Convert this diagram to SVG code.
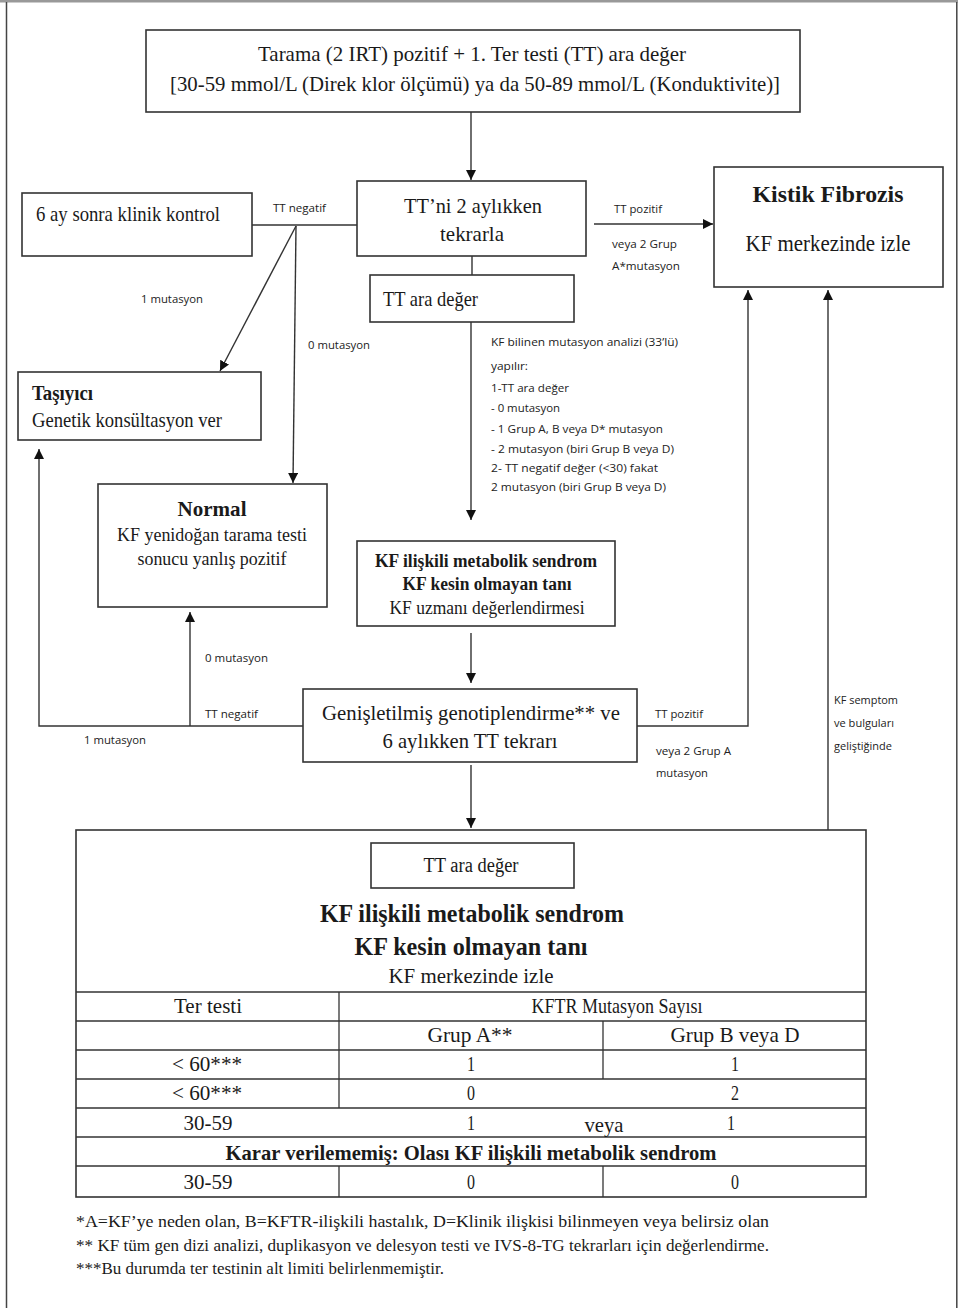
<svg xmlns="http://www.w3.org/2000/svg" width="958" height="1308" viewBox="0 0 958 1308">
  <style>
    .box { fill: #fff; stroke: #333; stroke-width: 1.6; }
    .ln { fill: none; stroke: #333; stroke-width: 1.4; }
    .arr { marker-end: url(#ah); }
    .s { font-family: "Liberation Serif", "Times New Roman", serif; fill: #1a1a1a; }
    .b { font-weight: bold; }
    .c { text-anchor: middle; }
    .m { font-family: "Open Sans", "Liberation Sans", sans-serif; font-size: 11px; fill: #222; }
    .tl { stroke: #333; stroke-width: 1.3; }
  </style>
  <defs>
    <marker id="ah" markerUnits="userSpaceOnUse" markerWidth="10" markerHeight="10" viewBox="0 0 10 10" refX="10" refY="5" orient="auto">
      <path d="M0,0 L10,5 L0,10 z" fill="#111"/>
    </marker>
  </defs>

  <rect width="958" height="1308" fill="#fff"/>
  <!-- page frame -->
  <rect x="0" y="0" width="958" height="2.5" fill="#999"/>
  <line x1="6.5" y1="2" x2="6.5" y2="1308" stroke="#444" stroke-width="1.5"/>
  <line x1="956.8" y1="2" x2="956.8" y2="1308" stroke="#444" stroke-width="1.5"/>

  <!-- connectors -->
  <g id="connectors">
    <line class="ln arr" x1="471" y1="112" x2="471" y2="180"/>
    <line class="ln" x1="252" y1="225" x2="357" y2="225"/>
    <line class="ln arr" x1="296" y1="226" x2="220" y2="371"/>
    <line class="ln arr" x1="296" y1="226" x2="293" y2="483"/>
    <line class="ln" x1="472" y1="256" x2="472" y2="275" stroke="#777"/>
    <line class="ln arr" x1="471" y1="322" x2="471" y2="520"/>
    <line class="ln arr" x1="594" y1="224" x2="713" y2="224"/>
    <polyline class="ln arr" points="637,726 748,726 748,290"/>
    <line class="ln arr" x1="828" y1="830" x2="828" y2="290"/>
    <line class="ln arr" x1="471" y1="633" x2="471" y2="683"/>
    <polyline class="ln arr" points="303,726 39,726 39,449"/>
    <line class="ln arr" x1="190" y1="726" x2="190" y2="612"/>
    <line class="ln arr" x1="471" y1="765" x2="471" y2="828"/>

    <!-- connector labels -->
    <text class="m" x="273" y="212" textLength="53" lengthAdjust="spacingAndGlyphs">TT negatif</text>
    <text class="m" x="141" y="303" textLength="62" lengthAdjust="spacingAndGlyphs">1 mutasyon</text>
    <text class="m" x="308" y="349" textLength="62" lengthAdjust="spacingAndGlyphs">0 mutasyon</text>
    <text class="m" x="614" y="213" textLength="48" lengthAdjust="spacingAndGlyphs">TT pozitif</text>
    <text class="m" x="612" y="248" textLength="65" lengthAdjust="spacingAndGlyphs">veya 2 Grup</text>
    <text class="m" x="612" y="270" textLength="68" lengthAdjust="spacingAndGlyphs">A*mutasyon</text>
    <g class="m">
      <text x="491" y="346" textLength="187" lengthAdjust="spacingAndGlyphs">KF bilinen  mutasyon  analizi  (33’lü)</text>
      <text x="491" y="370" textLength="37" lengthAdjust="spacingAndGlyphs">yapılır:</text>
      <text x="491" y="392" textLength="78" lengthAdjust="spacingAndGlyphs">1-TT ara değer</text>
      <text x="491" y="412" textLength="69" lengthAdjust="spacingAndGlyphs">- 0 mutasyon</text>
      <text x="491" y="433" textLength="172" lengthAdjust="spacingAndGlyphs">- 1 Grup  A, B veya D*  mutasyon</text>
      <text x="491" y="453" textLength="183" lengthAdjust="spacingAndGlyphs">- 2 mutasyon  (biri Grup  B veya D)</text>
      <text x="491" y="472" textLength="167" lengthAdjust="spacingAndGlyphs">2- TT negatif  değer  (&lt;30)  fakat</text>
      <text x="491" y="491" textLength="175" lengthAdjust="spacingAndGlyphs">2 mutasyon  (biri  Grup B veya D)</text>
    </g>
    <text class="m" x="205" y="662" textLength="63" lengthAdjust="spacingAndGlyphs">0 mutasyon</text>
    <text class="m" x="205" y="718" textLength="53" lengthAdjust="spacingAndGlyphs">TT negatif</text>
    <text class="m" x="84" y="744" textLength="62" lengthAdjust="spacingAndGlyphs">1 mutasyon</text>
    <text class="m" x="655" y="718" textLength="48" lengthAdjust="spacingAndGlyphs">TT pozitif</text>
    <text class="m" x="656" y="755" textLength="75" lengthAdjust="spacingAndGlyphs">veya 2 Grup A</text>
    <text class="m" x="656" y="777" textLength="52" lengthAdjust="spacingAndGlyphs">mutasyon</text>
    <text class="m" x="834" y="704" textLength="64" lengthAdjust="spacingAndGlyphs">KF semptom</text>
    <text class="m" x="834" y="727" textLength="60" lengthAdjust="spacingAndGlyphs">ve bulguları</text>
    <text class="m" x="834" y="750" textLength="58" lengthAdjust="spacingAndGlyphs">geliştiğinde</text>
  </g>

  <!-- start -->
  <g id="start">
    <rect class="box" x="146" y="30" width="654" height="82" stroke-width="2"/>
    <text class="s c" x="472" y="61" font-size="22" textLength="428" lengthAdjust="spacingAndGlyphs">Tarama (2 IRT) pozitif + 1. Ter testi (TT) ara değer</text>
    <text class="s c" x="475" y="91" font-size="22" textLength="610" lengthAdjust="spacingAndGlyphs">[30-59 mmol/L (Direk klor ölçümü) ya da 50-89 mmol/L (Konduktivite)]</text>
  </g>

  <g id="repeat-tt">
    <rect class="box" x="357" y="181" width="229" height="75"/>
    <text class="s c" x="473" y="213" font-size="22" textLength="138" lengthAdjust="spacingAndGlyphs">TT’ni 2 aylıkken</text>
    <text class="s c" x="472" y="241" font-size="22" textLength="64" lengthAdjust="spacingAndGlyphs">tekrarla</text>
  </g>

  <g id="clinic-control">
    <rect class="box" x="22" y="193" width="230" height="63"/>
    <text class="s" x="36" y="221" font-size="22" textLength="184" lengthAdjust="spacingAndGlyphs">6 ay sonra klinik kontrol</text>
  </g>

  <g id="cystic-fibrosis">
    <rect class="box" x="714" y="167" width="229" height="120"/>
    <text class="s b c" x="828" y="202" font-size="23" textLength="151" lengthAdjust="spacingAndGlyphs">Kistik Fibrozis</text>
    <text class="s c" x="828" y="251" font-size="23" textLength="165" lengthAdjust="spacingAndGlyphs">KF merkezinde izle</text>
  </g>

  <g id="tt-intermediate">
    <rect class="box" x="370" y="275" width="204" height="47"/>
    <text class="s" x="383" y="306" font-size="21" textLength="95" lengthAdjust="spacingAndGlyphs">TT ara değer</text>
  </g>

  <g id="carrier">
    <rect class="box" x="18" y="372" width="243" height="68"/>
    <text class="s b" x="32" y="400" font-size="20" textLength="61" lengthAdjust="spacingAndGlyphs">Taşıyıcı</text>
    <text class="s" x="32" y="427" font-size="21" textLength="190" lengthAdjust="spacingAndGlyphs">Genetik konsültasyon  ver</text>
  </g>

  <g id="normal">
    <rect class="box" x="98" y="484" width="229" height="123"/>
    <text class="s b c" x="212" y="516" font-size="22" textLength="69" lengthAdjust="spacingAndGlyphs">Normal</text>
    <text class="s c" x="212" y="541" font-size="19" textLength="190" lengthAdjust="spacingAndGlyphs">KF yenidoğan tarama testi</text>
    <text class="s c" x="212" y="565" font-size="19" textLength="149" lengthAdjust="spacingAndGlyphs">sonucu yanlış pozitif</text>
  </g>

  <g id="crms-review">
    <rect class="box" x="357" y="541" width="258" height="85"/>
    <text class="s b c" x="486" y="567" font-size="18" textLength="222" lengthAdjust="spacingAndGlyphs">KF ilişkili metabolik sendrom</text>
    <text class="s b c" x="487" y="590" font-size="18" textLength="169" lengthAdjust="spacingAndGlyphs">KF kesin olmayan tanı</text>
    <text class="s c" x="487" y="614" font-size="18" textLength="195" lengthAdjust="spacingAndGlyphs">KF uzmanı değerlendirmesi</text>
  </g>

  <g id="extended-genotyping">
    <rect class="box" x="303" y="689" width="334" height="73"/>
    <text class="s c" x="471" y="720" font-size="22" textLength="298" lengthAdjust="spacingAndGlyphs">Genişletilmiş genotiplendirme** ve</text>
    <text class="s c" x="470" y="748" font-size="22" textLength="175" lengthAdjust="spacingAndGlyphs">6 aylıkken TT tekrarı</text>
  </g>

  <!-- outcome panel with criteria table -->
  <g id="crms-outcome">
    <rect class="box" x="76" y="830" width="790" height="367"/>
    <rect class="box" x="371" y="843" width="203" height="45"/>
    <text class="s c" x="471" y="872" font-size="20" textLength="95" lengthAdjust="spacingAndGlyphs">TT ara değer</text>
    <text class="s b c" x="472" y="922" font-size="25" textLength="304" lengthAdjust="spacingAndGlyphs">KF ilişkili metabolik sendrom</text>
    <text class="s b c" x="471" y="955" font-size="25" textLength="233" lengthAdjust="spacingAndGlyphs">KF kesin olmayan tanı</text>
    <text class="s c" x="471" y="983" font-size="22" textLength="165" lengthAdjust="spacingAndGlyphs">KF merkezinde izle</text>

    <g class="tl">
      <line x1="76" y1="992" x2="866" y2="992"/>
      <line x1="76" y1="1021" x2="866" y2="1021"/>
      <line x1="76" y1="1050" x2="866" y2="1050"/>
      <line x1="76" y1="1079" x2="866" y2="1079"/>
      <line x1="76" y1="1108" x2="866" y2="1108"/>
      <line x1="76" y1="1137" x2="866" y2="1137"/>
      <line x1="76" y1="1166" x2="866" y2="1166"/>
      <line x1="339" y1="992" x2="339" y2="1108"/>
      <line x1="339" y1="1166" x2="339" y2="1197"/>
      <line x1="603" y1="1021" x2="603" y2="1079"/>
      <line x1="603" y1="1166" x2="603" y2="1197"/>
    </g>
    <g class="s c" font-size="21">
      <text x="208" y="1013" textLength="68" lengthAdjust="spacingAndGlyphs">Ter testi</text>
      <text x="617" y="1013" textLength="171" lengthAdjust="spacingAndGlyphs">KFTR Mutasyon Sayısı</text>
      <text x="470" y="1042" textLength="85" lengthAdjust="spacingAndGlyphs">Grup A**</text>
      <text x="735" y="1042" textLength="129" lengthAdjust="spacingAndGlyphs">Grup B veya D</text>
      <text x="207" y="1071" textLength="70" lengthAdjust="spacingAndGlyphs">&lt; 60***</text>
      <text x="471" y="1071" textLength="8" lengthAdjust="spacingAndGlyphs">1</text>
      <text x="735" y="1071" textLength="8" lengthAdjust="spacingAndGlyphs">1</text>
      <text x="207" y="1100" textLength="70" lengthAdjust="spacingAndGlyphs">&lt; 60***</text>
      <text x="471" y="1100" textLength="8" lengthAdjust="spacingAndGlyphs">0</text>
      <text x="735" y="1100" textLength="8" lengthAdjust="spacingAndGlyphs">2</text>
      <text x="208" y="1130" textLength="49" lengthAdjust="spacingAndGlyphs">30-59</text>
      <text x="471" y="1130" textLength="8" lengthAdjust="spacingAndGlyphs">1</text>
      <text x="604" y="1132" textLength="39" lengthAdjust="spacingAndGlyphs">veya</text>
      <text x="731" y="1130" textLength="8" lengthAdjust="spacingAndGlyphs">1</text>
      <text class="b" x="471" y="1160" textLength="491" lengthAdjust="spacingAndGlyphs">Karar verilememiş: Olası KF ilişkili metabolik sendrom</text>
      <text x="208" y="1189" textLength="49" lengthAdjust="spacingAndGlyphs">30-59</text>
      <text x="471" y="1189" textLength="8" lengthAdjust="spacingAndGlyphs">0</text>
      <text x="735" y="1189" textLength="8" lengthAdjust="spacingAndGlyphs">0</text>
    </g>
  </g>

  <!-- footnotes -->
  <g id="footnotes" class="s" font-size="17">
    <text x="76" y="1227" textLength="693" lengthAdjust="spacingAndGlyphs">*A=KF’ye neden olan, B=KFTR-ilişkili  hastalık, D=Klinik ilişkisi  bilinmeyen veya belirsiz  olan</text>
    <text x="76" y="1251" textLength="693" lengthAdjust="spacingAndGlyphs">** KF tüm gen dizi  analizi, duplikasyon ve delesyon testi ve IVS-8-TG tekrarları için değerlendirme.</text>
    <text x="76" y="1274" textLength="368" lengthAdjust="spacingAndGlyphs">***Bu durumda ter testinin alt limiti belirlenmemiştir.</text>
  </g>
</svg>
